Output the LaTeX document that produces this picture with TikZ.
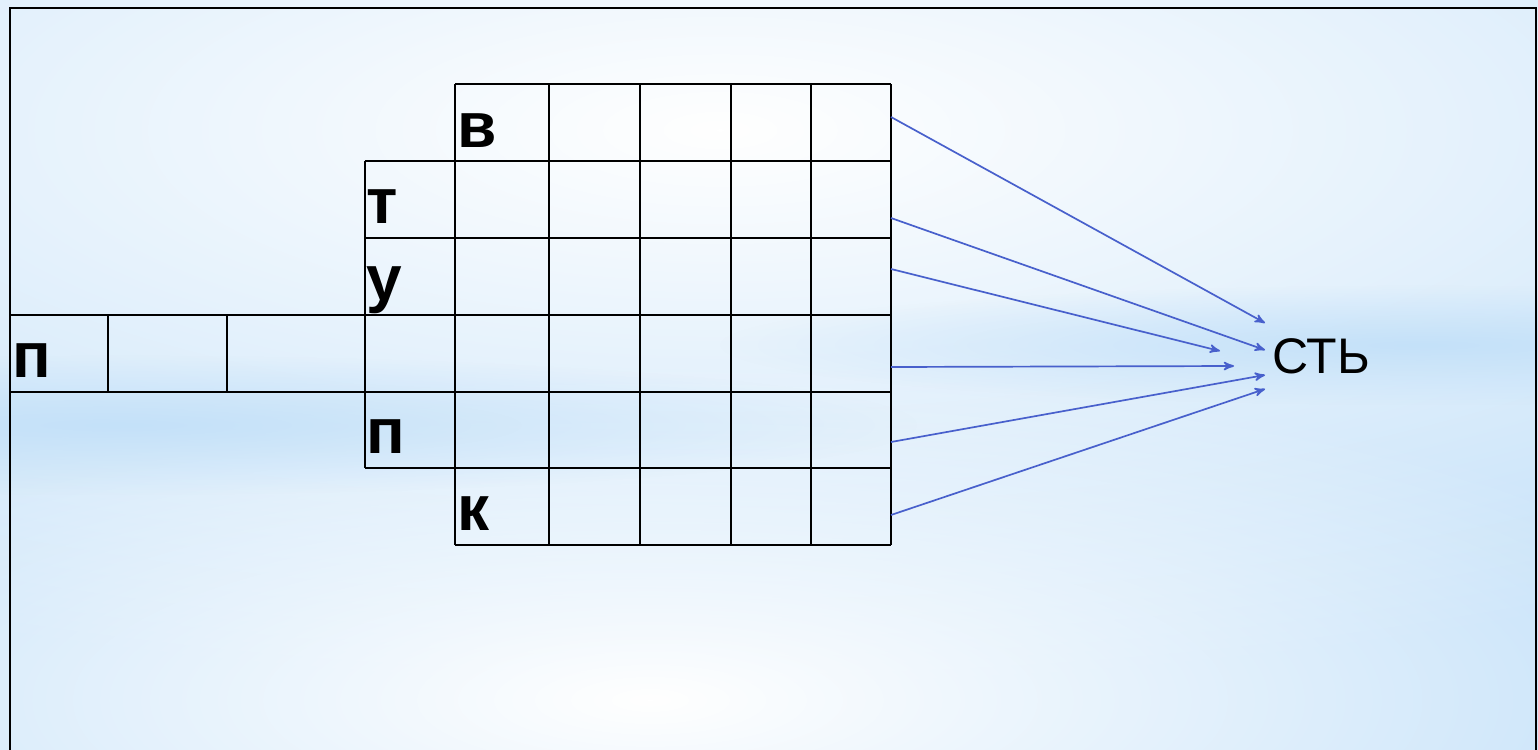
\documentclass[tikz,border=0pt]{standalone}
\usepackage{fontspec}
\setmainfont{Liberation Sans}
\usepackage{xcolor}
\usetikzlibrary{arrows,fadings}
\definecolor{bgblue}{RGB}{196,225,249}
\definecolor{linkblue}{RGB}{72,96,204}
\pgfdeclareradialshading{glowshade}{\pgfpoint{0bp}{0bp}}{color(0bp)=(white); color(25bp)=(black); color(50bp)=(black)}
\pgfdeclarefading{glow}{\pgfuseshading{glowshade}}

\begin{document}
\begin{tikzpicture}[x=0.5pt,y=-0.5pt,>=stealth',
	letter/.style={anchor=base west,inner sep=0pt,font=\fontsize{32}{32}\selectfont\bfseries},
	grid/.style={line width=1pt},
	link/.style={->,draw=linkblue,line width=0.85pt}]
	\useasboundingbox (0,0) rectangle (1538,750);
	% background
	\fill[bgblue] (0,0) rectangle (1538,750);
	\begin{scope}
		\clip (0,0) rectangle (1538,750);
		\fill[white,path fading=glow] (720,130) ellipse (1700 and 560);
		\fill[white,path fading=glow] (650,700) ellipse (1150 and 340);
		\fill[bgblue,path fading=glow] (1420,345) ellipse (700 and 60);
		\fill[bgblue,path fading=glow] (120,425) ellipse (800 and 70);
	\end{scope}
	\draw[grid] (10,750) -- (10,8) -- (1536,8) -- (1536,750);
	
	% crossword
	\draw[grid] (455,84) -- (891,84)
		(365,161) -- (891,161)
		(365,238) -- (891,238)
		(10,315) -- (891,315)
		(10,392) -- (891,392)
		(365,468) -- (891,468)
		(455,545) -- (891,545)
		(365,161) -- (365,468)
		(108,315) -- (108,392)
		(227,315) -- (227,392);
	\foreach \x in {455,549,640,731,811,891}
		\draw[grid] (\x,84) -- (\x,545);
	
	\node[letter] (v) at (457,147) {в};
	\node[letter] (t) at (366,223) {т};
	\node[letter] (u) at (366,300) {у};
	\node[letter] (p1) at (12,377) {п};
	\node[letter] (p2) at (366,453) {п};
	\node[letter] (k) at (457,530) {к};
	\node[anchor=base west,inner sep=0pt,font=\fontsize{25}{25}\selectfont] (end) at (1272,373) {СТЬ};
	
	% arrows
	\coordinate (from1) at (891,117);
	\coordinate (from2) at (891,218);
	\coordinate (from3) at (891,269);
	\coordinate (from4) at (891,367);
	\coordinate (from5) at (891,442);
	\coordinate (from6) at (891,515);
	\coordinate (to1) at (1265,323);
	\coordinate (to2) at (1265,350);
	\coordinate (to3) at (1220,351);
	\coordinate (to4) at (1234,366);
	\coordinate (to5) at (1265,375);
	\coordinate (to6) at (1265,389);
	\draw[link] (from1) -- (to1);
	\draw[link] (from2) -- (to2);
	\draw[link] (from3) -- (to3);
	\draw[link] (from4) -- (to4);
	\draw[link] (from5) -- (to5);
	\draw[link] (from6) -- (to6);
\end{tikzpicture}
\end{document}
